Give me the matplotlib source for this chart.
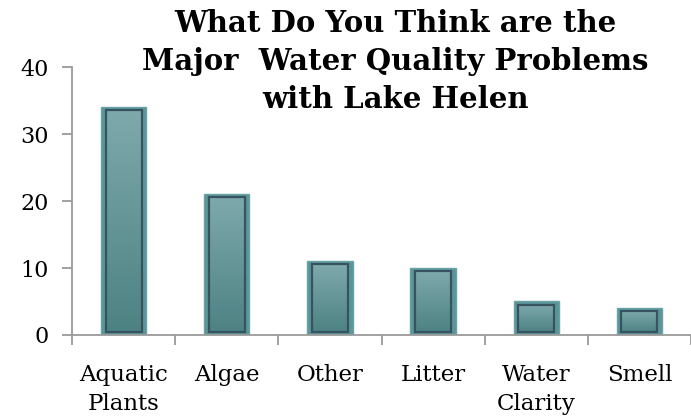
import numpy as np
import matplotlib.pyplot as plt
from matplotlib.patches import Rectangle
from matplotlib.colors import LinearSegmentedColormap

# survey responses
categories = ['Aquatic\nPlants', 'Algae', 'Other', 'Litter', 'Water\nClarity', 'Smell']
counts = [34, 21, 11, 10, 5, 4]
y_ticks = [0, 10, 20, 30, 40]

title = 'What Do You Think are the\nMajor  Water Quality Problems\nwith Lake Helen'

fig = plt.figure(figsize=(6.91, 4.18), dpi=100)
ax = fig.add_axes([0.1042, 0.1986, 0.8958, 0.641])

x = np.arange(len(categories))
bar_w = 0.44
inset_x = 0.045
inset_y = 0.45

# vertical gradient used to fill the inner part of each bar
grad = np.linspace(0, 1, 256).reshape(-1, 1)
cmap = LinearSegmentedColormap.from_list('teal', ['#4d8283', '#7ea9ac'])

ax.bar(x, counts, width=bar_w, color='#5a9698', edgecolor='#6aa3a6',
       linewidth=1.0, zorder=2)
for xi, v in zip(x, counts):
    left = xi - bar_w / 2 + inset_x
    w = bar_w - 2 * inset_x
    bottom = inset_y
    h = v - 2 * inset_y
    im = ax.imshow(grad, cmap=cmap, origin='lower', aspect='auto',
                   extent=(left, left + w, bottom, bottom + h), zorder=3)
    rect = Rectangle((left, bottom), w, h, fill=False, edgecolor='#36535f',
                     linewidth=1.6, zorder=4)
    ax.add_patch(rect)
    im.set_clip_path(rect)

ax.set_xlim(-0.5, len(categories) - 0.5)
ax.set_ylim(0, 40)

for s in ['top', 'right']:
    ax.spines[s].set_visible(False)
for s in ['left', 'bottom']:
    ax.spines[s].set_color('#9a9a9a')
    ax.spines[s].set_linewidth(1.3)

ax.set_yticks(y_ticks)
ax.set_yticklabels([str(t) for t in y_ticks], family='DejaVu Serif', fontsize=16)
ax.tick_params(axis='y', length=7, width=1.3, color='#9a9a9a', pad=10)

ax.set_xticks(np.arange(-0.5, len(categories), 1.0))
ax.set_xticklabels([])
ax.tick_params(axis='x', which='major', length=7, width=1.3, color='#9a9a9a')
ax.set_xticks(x, minor=True)
ax.set_xticklabels(categories, minor=True, family='DejaVu Serif', fontsize=16.5,
                   linespacing=1.4)
ax.tick_params(axis='x', which='minor', length=0, pad=21)

fig.text(0.572, 0.978, title, ha='center', va='top', family='DejaVu Serif',
         fontweight='bold', fontsize=21, linespacing=1.38)

fig.savefig('out.png', dpi=100)
